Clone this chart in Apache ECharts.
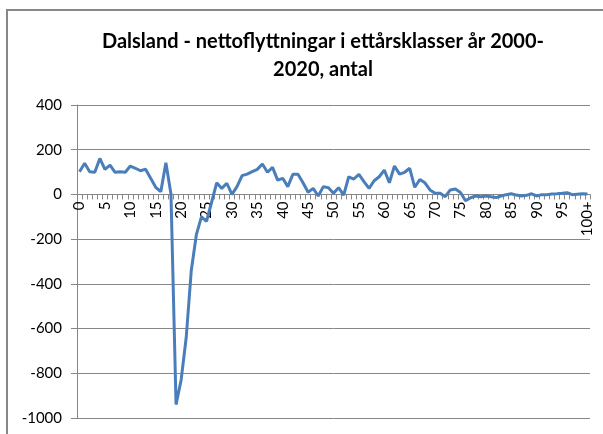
<!DOCTYPE html>
<html><head><meta charset="utf-8">
<script src="https://cdn.jsdelivr.net/npm/echarts@6/dist/echarts.min.js"></script>
<style>html,body{margin:0;padding:0;background:#fff}#c{width:603px;height:434px}</style>
</head><body><div id="c"></div>
<script>
var titleText = 'Dalsland - nettoflyttningar i ettårsklasser år 2000-\n2020, antal';
var categories = [];
for (var i = 0; i < 100; i++) categories.push(String(i));
categories.push('100+');
var values = [
 101,139,101,99,161,112,131,99,101,99,
 127,117,106,113,72,32,12,142,2,-940,
 -830,-640,-340,-180,-100,-120,-35,52,27,50,
 0,35,84,91,102,112,136,99,121,64,
 72,35,90,90,52,10,27,-7,35,30,
 5,30,-3,79,69,90,57,27,61,79,
 109,52,127,91,99,117,32,67,52,20,
 5,5,-10,20,24,9,-28,-15,-7,-10,
 -7,-10,-14,-7,-1,3,-3,-7,-4,3,
 -7,-1,-1,2,3,5,8,-1,1,3,
 2
];
var yMin = -1000, yMax = 400, yStep = 200;

var gridTop = 105, gridBottom = 16, H = 434;
var zeroOffset = -(H - gridTop - gridBottom) * (0 - yMin) / (yMax - yMin);

var chart = echarts.init(document.getElementById('c'));
chart.setOption({
  animation: false,
  backgroundColor: '#fff',
  graphic: [{
    type: 'rect', shape: {x: 7, y: 10, width: 700, height: 600},
    style: {fill: 'none', stroke: '#878787', lineWidth: 2}, silent: true
  }],
  title: {
    text: titleText, left: 318, textAlign: 'center', top: 23,
    textStyle: {fontFamily: 'Lato', fontWeight: 'bold', fontSize: 20, color: '#000', lineHeight: 28}
  },
  grid: {left: 77, right: 13, top: gridTop, bottom: gridBottom, containLabel: false, outerBoundsMode: 'none'},
  xAxis: {
    type: 'category', data: categories, boundaryGap: true, position: 'bottom', offset: zeroOffset,
    axisLine: {onZero: false, lineStyle: {color: '#878787', width: 1}},
    axisTick: {show: true, interval: 0, length: 5, lineStyle: {color: '#878787'}},
    axisLabel: {interval: 4, rotate: 90, margin: 7, fontFamily: 'Lato', fontSize: 15, color: '#000'},
    splitLine: {show: false}
  },
  yAxis: {
    type: 'value', min: yMin, max: yMax, interval: yStep,
    axisLine: {show: true, lineStyle: {color: '#878787', width: 1}},
    axisTick: {show: true, length: 6, lineStyle: {color: '#878787'}},
    axisLabel: {margin: 15, fontFamily: 'Lato', fontSize: 15, color: '#000', formatter: function (v) { return String(v); }},
    splitLine: {show: true, lineStyle: {color: '#878787', width: 1}}
  },
  series: [{
    type: 'line', data: values, symbol: 'none', smooth: false,
    lineStyle: {color: '#4A7EBB', width: 3}
  }]
});
</script></body></html>
